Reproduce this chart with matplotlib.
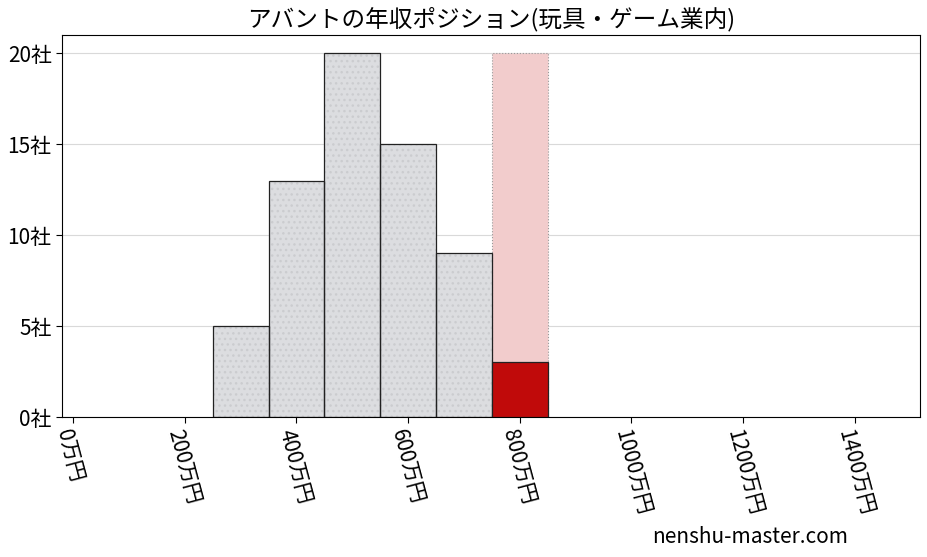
import matplotlib
matplotlib.use('Agg')
import matplotlib.pyplot as plt

plt.rcParams['font.family'] = ['Noto Sans CJK JP', 'DejaVu Sans']

# データ（万円単位のビン左端と社数）
bin_lefts = [250, 350, 450, 550, 650]
counts = [5, 13, 20, 15, 9]
hl_left = 750
hl_count = 3
hl_max = 20
bin_width = 100

x_ticks = [0, 200, 400, 600, 800, 1000, 1200, 1400]
x_labels = [f'{v}万円' for v in x_ticks]
y_ticks = [0, 5, 10, 15, 20]
y_labels = [f'{v}社' for v in y_ticks]

fig = plt.figure(figsize=(9.28, 5.57), dpi=100)
ax = fig.add_axes([62 / 928, 1 - 417 / 557, (920 - 62) / 928, (417 - 35) / 557])

ax.grid(axis='y', color='#d9d9d9', linewidth=0.8, zorder=0)
ax.set_axisbelow(True)

# 背景ハイライト
ax.bar(hl_left, hl_max, width=bin_width, align='edge', color='#f2cccc',
       edgecolor='#999999', linestyle=':', linewidth=0.8, zorder=1)
# ヒストグラム（薄い点のハッチ + 黒枠）
ax.bar(bin_lefts, counts, width=bin_width, align='edge', color='#dcdde0',
       edgecolor='#cbcccf', linewidth=0, hatch='...', zorder=2)
ax.bar(bin_lefts, counts, width=bin_width, align='edge', fill=False,
       edgecolor='#222222', linewidth=0.9, zorder=3)
ax.bar(hl_left, hl_count, width=bin_width, align='edge', color='#c00a0a',
       edgecolor='#222222', linewidth=0.9, zorder=3)

ax.set_xlim(-20, 1517)
ax.set_ylim(0, 21)
ax.set_xticks(x_ticks)
ax.set_xticklabels(x_labels, rotation=-75, ha='left', va='top', rotation_mode='anchor', fontsize=15)
ax.set_yticks(y_ticks)
ax.set_yticklabels(y_labels, fontsize=15)
ax.tick_params(axis='both', length=4)

ax.set_title('アバントの年収ポジション(玩具・ゲーム業内)', fontsize=17)
fig.text(750 / 928, 1 - 537 / 557, 'nenshu-master.com', fontsize=15,
         ha='center', va='center')

fig.savefig('out.png', dpi=100)
